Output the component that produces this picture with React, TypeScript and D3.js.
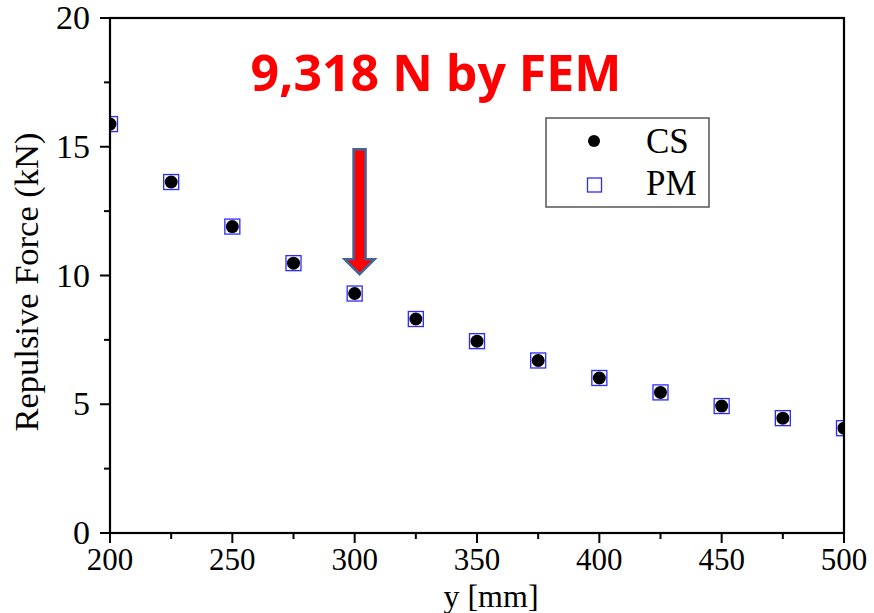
import React from "react";
import * as d3 from "d3";

const yPositions = [200, 225, 250, 275, 300, 325, 350, 375, 400, 425, 450, 475, 500];
const csForce = [15.88, 13.63, 11.9, 10.48, 9.3, 8.31, 7.45, 6.7, 6.02, 5.46, 4.93, 4.46, 4.07];
const pmForce = [15.88, 13.63, 11.9, 10.48, 9.3, 8.31, 7.45, 6.7, 6.02, 5.46, 4.93, 4.46, 4.07];
const xTicks = [200, 250, 300, 350, 400, 450, 500];
const xMinor = [225, 275, 325, 375, 425, 475];
const yTicks = [0, 5, 10, 15, 20];
const yMinor = [2.5, 7.5, 12.5, 17.5];
const annotation = "9,318 N by FEM";
const arrowAt = { x: 302, yTop: 14.9, yTip: 10.05 };

const L = 110, R = 844, T = 18, B = 533;

export default function App() {
  const x = d3.scaleLinear().domain([200, 500]).range([L, R]);
  const y = d3.scaleLinear().domain([0, 20]).range([B, T]);
  const serif = "'Liberation Serif', 'Times New Roman', serif";
  const ax = x(arrowAt.x);
  const aTop = y(arrowAt.yTop);
  const aTip = y(arrowAt.yTip);
  const headStart = aTip - 15;
  const arrowPath = `M${ax - 6},${aTop} L${ax + 6},${aTop} L${ax + 6},${headStart} L${ax + 15},${headStart} L${ax},${aTip} L${ax - 15},${headStart} L${ax - 6},${headStart} Z`;
  return (
    <svg width={874} height={613} style={{ position: "absolute", left: 0, top: 0, background: "#fff" }}>
      <defs>
        <clipPath id="plot">
          <rect x={L} y={T} width={R - L} height={B - T} />
        </clipPath>
      </defs>
      <rect x={0} y={0} width={874} height={613} fill="#fff" />
      <g clipPath="url(#plot)">
        {yPositions.map((v, i) => (
          <circle key={"c" + i} cx={x(v)} cy={y(csForce[i])} r={6.5} fill="#000" />
        ))}
        {yPositions.map((v, i) => (
          <rect key={"p" + i} x={x(v) - 7.5} y={y(pmForce[i]) - 7.5} width={15} height={15} fill="none" stroke="#2b2bff" strokeWidth={1.3} />
        ))}
      </g>
      <rect x={L} y={T} width={R - L} height={B - T} fill="none" stroke="#000" strokeWidth={2.2} />
      {xTicks.map((t) => (
        <g key={"xt" + t}>
          <line x1={x(t)} x2={x(t)} y1={B} y2={B + 10} stroke="#000" strokeWidth={2} />
          <text x={x(t)} y={570} textAnchor="middle" fontFamily={serif} fontSize={31}>{t}</text>
        </g>
      ))}
      {xMinor.map((t) => (
        <line key={"xm" + t} x1={x(t)} x2={x(t)} y1={B} y2={B + 6} stroke="#000" strokeWidth={2} />
      ))}
      {yTicks.map((t) => (
        <g key={"yt" + t}>
          <line x1={L - 10} x2={L} y1={y(t)} y2={y(t)} stroke="#000" strokeWidth={2} />
          <text x={L - 20} y={y(t) + 11} textAnchor="end" fontFamily={serif} fontSize={34}>{t}</text>
        </g>
      ))}
      {yMinor.map((t) => (
        <line key={"ym" + t} x1={L - 6} x2={L} y1={y(t)} y2={y(t)} stroke="#000" strokeWidth={2} />
      ))}
      <text x={491} y={607} textAnchor="middle" fontFamily={serif} fontSize={32}>y [mm]</text>
      <text transform={`translate(38,282) rotate(-90)`} textAnchor="middle" fontFamily={serif} fontSize={34.5}>Repulsive Force (kN)</text>
      <text x={436} y={91} textAnchor="middle" fontFamily="'Open Sans', 'Noto Sans', sans-serif" fontWeight="bold" fontSize={50} fill="#ff0000">{annotation}</text>
      <path d={arrowPath} fill="#ff0000" stroke="#41649a" strokeWidth={2.5} strokeLinejoin="miter" />
      <g>
        <rect x={546} y={118} width={163} height={89} fill="#fff" stroke="#555" strokeWidth={1.5} />
        <circle cx={594} cy={141} r={6} fill="#000" />
        <text x={646} y={153} fontFamily={serif} fontSize={35}>CS</text>
        <rect x={587.5} y={178} width={14} height={14} fill="none" stroke="#2b2bff" strokeWidth={1.3} />
        <text x={646} y={195} fontFamily={serif} fontSize={35}>PM</text>
      </g>
    </svg>
  );
}
